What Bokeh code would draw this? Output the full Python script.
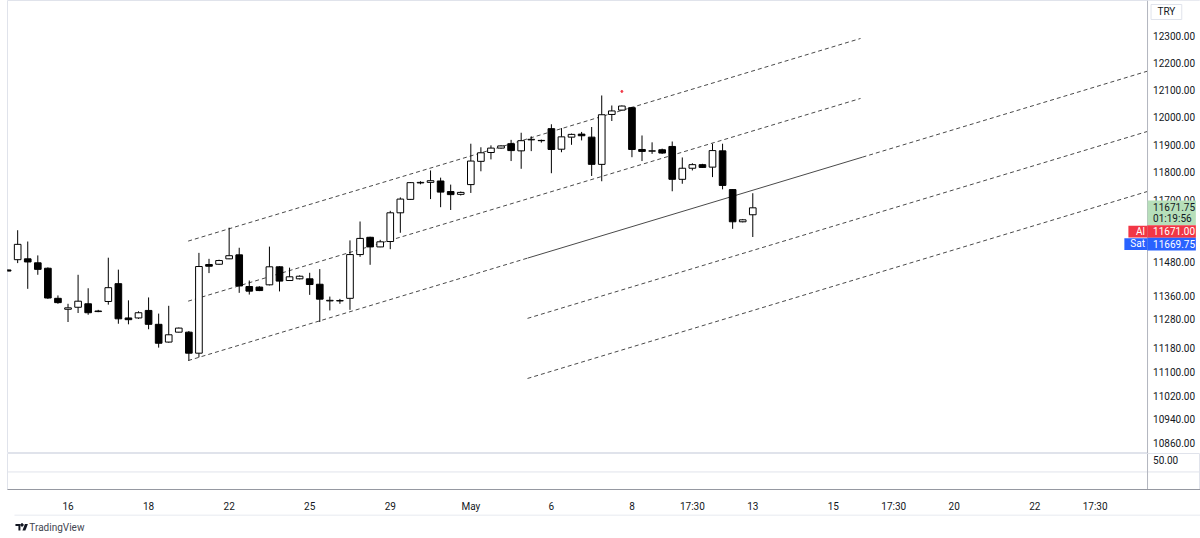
from bokeh.plotting import figure
from bokeh.layouts import column
from bokeh.models import Range1d, FixedTicker, ColumnDataSource
from bokeh.embed import file_html
from bokeh.resources import INLINE
from bokeh.core.properties import value

# ---------------- data (4 bars per trading day, index = bar number) ----------------
bar_index = list(range(-1, 74))
opens = [11452, 11488, 11491, 11477, 11458, 11353, 11315, 11322, 11334, 11307,
         11342, 11404, 11285, 11285, 11311, 11263, 11202, 11236, 11236, 11164,
         11471, 11472, 11491, 11505, 11394, 11392, 11400, 11463, 11415, 11421,
         11421, 11402, 11344, 11345, 11353, 11506, 11567, 11533, 11552, 11654,
         11702, 11761, 11763, 11768, 11730, 11720, 11755, 11839, 11871, 11887,
         11903, 11877, 11917, 11915, 11958, 11883, 11927, 11938, 11927, 11828,
         12010, 12026, 12035, 11882, 11876, 11881, 11893, 11774, 11814, 11827,
         11818, 11877, 11737, 11622, 11647]
highs = [11455, 11592, 11552, 11503, 11461, 11363, 11334, 11435, 11388, 11313,
         11495, 11453, 11346, 11308, 11356, 11300, 11327, 11252, 11240, 11512,
         11491, 11488, 11601, 11530, 11415, 11395, 11534, 11465, 11460, 11433,
         11442, 11455, 11359, 11351, 11556, 11623, 11569, 11558, 11661, 11709,
         11764, 11767, 11806, 11780, 11755, 11730, 11903, 11890, 11897, 11897,
         11917, 11943, 11930, 11918, 11974, 11960, 11940, 11946, 11964, 12080,
         12043, 12043, 12038, 11933, 11908, 11885, 11911, 11853, 11832, 11830,
         11903, 11903, 11738, 11632, 11724]
lows = [11446, 11476, 11386, 11435, 11351, 11334, 11271, 11302, 11296, 11305,
        11331, 11265, 11263, 11282, 11246, 11183, 11200, 11235, 11139, 11150,
        11441, 11470, 11490, 11372, 11366, 11378, 11398, 11377, 11414, 11419,
        11365, 11271, 11311, 11334, 11313, 11498, 11470, 11532, 11525, 11583,
        11701, 11756, 11703, 11674, 11664, 11716, 11725, 11803, 11846, 11885,
        11840, 11812, 11876, 11907, 11796, 11872, 11899, 11915, 11786, 11767,
        11986, 12024, 11854, 11840, 11866, 11866, 11731, 11758, 11806, 11815,
        11782, 11738, 11597, 11620, 11568]
closes = [11448, 11542, 11480, 11454, 11354, 11338, 11320, 11343, 11303, 11309,
          11390, 11282, 11279, 11303, 11263, 11198, 11227, 11250, 11164, 11464,
          11465, 11485, 11502, 11396, 11378, 11380, 11463, 11413, 11428, 11430,
          11401, 11350, 11346, 11344, 11506, 11563, 11533, 11551, 11654, 11703,
          11762, 11763, 11769, 11728, 11719, 11727, 11840, 11870, 11887, 11895,
          11878, 11914, 11919, 11914, 11882, 11928, 11937, 11932, 11828, 12009,
          12023, 12041, 11882, 11875, 11877, 11869, 11774, 11814, 11827, 11817,
          11878, 11752, 11622, 11629, 11671.75]

# drawn channel lines (bar index, price)
chan_upper_x = [16.93, 83.7]
chan_upper_y = [11553.5, 12292.5]
chan_middle_x = [16.93, 83.7]
chan_middle_y = [11343.1, 12069.0]
chan_lower_x = [16.93, 50.63]
chan_lower_y = [11138.7, 11493.5]
trend_solid_x = [50.63, 83.89]
trend_solid_y = [11493.5, 11854.1]
trend_ext_x = [83.89, 112.2]
trend_ext_y = [11854.1, 12170.3]
chan2_mid_x = [50.63, 112.2]
chan2_mid_y = [11283.5, 11947.9]
chan2_low_x = [50.63, 112.2]
chan2_low_y = [11077.9, 11730.4]

alert_x = [60]
alert_y = [12095]

price_ticks = [10860, 10940, 11020, 11100, 11180, 11280, 11360, 11480,
               11700, 11800, 11900, 12000, 12100, 12200, 12300]
pane_ticks = [50]
time_tick_idx = [5, 13, 21, 29, 37, 45, 53, 61, 67, 73, 81, 87, 93, 101, 107]
time_tick_labels = ["16", "18", "22", "25", "29", "May", "6", "8", "17:30",
                    "13", "15", "17:30", "20", "22", "17:30"]

currency = "TRY"
last_price = 11671.75
countdown = "01:19:56"
bid_price = 11671.00
ask_price = 11669.75

# ---------------- styling / layout ----------------
FONT = "Roboto"
TXT = "#131722"
BORDER = "#e0e3eb"
AXLINE = "#b2b5be"
W = 1200
X0, X_AX, X1 = -1.01, 112.2, 117.46      # frame start, price-scale edge, frame end
LAB_X = 112.75                          # where scale labels start
Y_LO, Y_HI = 10826.5, 12436.2

up = [c >= o for o, c in zip(opens, closes)]
src = ColumnDataSource(dict(
    x=bar_index, h=highs, l=lows,
    top=[max(o, c) for o, c in zip(opens, closes)],
    bot=[min(o, c) for o, c in zip(opens, closes)],
    fill=["#ffffff" if u else "#000000" for u in up],
))

p = figure(width=W, height=453, x_range=Range1d(X0, X1),
           y_range=Range1d(Y_LO, Y_HI), y_axis_type="log",
           y_axis_location=None, x_axis_location=None,
           toolbar_location=None, output_backend="svg",
           min_border_left=7, min_border_right=0, min_border_top=0,
           min_border_bottom=0, outline_line_color=BORDER,
           background_fill_color="white", border_fill_color="white")
p.xgrid.visible = False
p.ygrid.visible = False

dash_col = "#4a4a4a"
for xs, ys in [(chan_upper_x, chan_upper_y), (chan_middle_x, chan_middle_y),
               (chan_lower_x, chan_lower_y), (trend_ext_x, trend_ext_y),
               (chan2_mid_x, chan2_mid_y), (chan2_low_x, chan2_low_y)]:
    p.line(xs, ys, line_color=dash_col, line_width=1, line_dash="4 3")
p.line(trend_solid_x, trend_solid_y, line_color=dash_col, line_width=1)

p.segment(x0="x", y0="h", x1="x", y1="l", source=src, line_color="#000000", line_width=1)
p.vbar(x="x", width=0.66, top="top", bottom="bot", source=src,
       fill_color="fill", line_color="#000000", line_width=1)

p.scatter(alert_x, alert_y, size=2, color="#f23645")

# ----- price scale (right) -----
p.quad(left=[X_AX], right=[X1], bottom=[Y_LO], top=[Y_HI],
       fill_color="white", line_color=None)
p.segment(x0=[X_AX], y0=[Y_LO], x1=[X_AX], y1=[Y_HI], line_color=AXLINE, line_width=1)
p.text(x=[LAB_X] * len(price_ticks), y=price_ticks,
       text=["%.2f" % v for v in price_ticks], text_font=value(FONT),
       text_font_size="10px", text_color=TXT, text_baseline="middle")

# currency box
p.quad(left=[112.55], right=[115.6], bottom=[12364], top=[12421],
       fill_color="white", line_color=BORDER)
p.text(x=[114.07], y=[12392.6], text=[currency], text_font=value(FONT),
       text_font_size="10px", text_color=TXT, text_align="center",
       text_baseline="middle")

# last price + countdown badge
p.quad(left=[X_AX], right=[117.0], bottom=[11609.3], top=[11698.0],
       fill_color="#b7dfba", line_color=None)
p.text(x=[LAB_X], y=[11673.1], text=["%.2f" % last_price], text_font=value(FONT),
       text_font_size="10px", text_color=TXT, text_baseline="middle")
p.text(x=[LAB_X], y=[11632.3], text=[countdown], text_font=value(FONT),
       text_font_size="10px", text_color=TXT, text_baseline="middle")

# bid / ask badges
p.quad(left=[X_AX, X_AX], right=[117.0, 117.0], bottom=[11565.0, 11520.4],
       top=[11609.3, 11565.0], fill_color=["#f23645", "#2962ff"], line_color=None)
p.text(x=[LAB_X, LAB_X], y=[11587.9, 11543.6],
       text=["%.2f" % bid_price, "%.2f" % ask_price], text_font=value(FONT),
       text_font_size="10px", text_color="white", text_baseline="middle")
p.quad(left=[110.3, 109.9], right=[X_AX, X_AX], bottom=[11566.5, 11522.0],
       top=[11608.0, 11563.6], fill_color=["#f23645", "#2962ff"], line_color=None)
p.text(x=[111.95, 111.95], y=[11587.9, 11543.6], text=["Al", "Sat"],
       text_font=value(FONT), text_font_size="10px", text_color="white",
       text_align="right", text_baseline="middle")

# ---------------- indicator panes + time axis ----------------
q = figure(width=W, height=61, x_range=p.x_range, y_range=Range1d(0, 60.3),
           y_axis_location=None, x_axis_location="below",
           toolbar_location=None, output_backend="svg",
           min_border_left=7, min_border_right=0, min_border_top=0,
           min_border_bottom=20, outline_line_color=BORDER,
           background_fill_color="white", border_fill_color="white")
q.xgrid.visible = False
q.ygrid.visible = False
q.segment(x0=[X0], y0=[29.4], x1=[X1], y1=[29.4], line_color=BORDER, line_width=1)
q.segment(x0=[X_AX], y0=[0], x1=[X_AX], y1=[60.3], line_color=AXLINE, line_width=1)
q.text(x=[LAB_X] * len(pane_ticks), y=pane_ticks, text=["%.2f" % v for v in pane_ticks],
       text_font=value(FONT), text_font_size="10px", text_color=TXT,
       text_baseline="middle")
qx = q.xaxis[0]
qx.ticker = FixedTicker(ticks=time_tick_idx)
qx.major_label_overrides = {i: s for i, s in zip(time_tick_idx, time_tick_labels)}
qx.major_tick_line_color = None
qx.minor_tick_line_color = None
qx.axis_line_color = "#9598a1"
qx.major_label_text_font = FONT
qx.major_label_text_font_size = "10px"
qx.major_label_text_color = TXT
qx.major_label_standoff = 5

# ---------------- footer logo ----------------
f = figure(width=W, height=24, x_range=Range1d(0, W), y_range=Range1d(0, 24),
           x_axis_location=None, y_axis_location=None, toolbar_location=None,
           output_backend="svg", min_border=0, outline_line_color=None,
           background_fill_color="white", border_fill_color="white")
f.xgrid.visible = False
f.ygrid.visible = False
f.segment(x0=[7], y0=[23.5], x1=[1199.5], y1=[23.5], line_color=BORDER, line_width=1)
f.patches(xs=[[8, 13, 13, 11, 11, 8], [17.5, 20.5, 18, 15]],
          ys=[[14.5, 14.5, 8, 8, 12.5, 12.5], [14.5, 14.5, 8, 8]],
          fill_color="#131722", line_color=None)
f.scatter([14.6], [13.6], size=2.5, color="#131722")
f.text([22], [11], text=["TradingView"], text_font=value(FONT), text_font_size="10px",
       text_color="#434651", text_baseline="middle")

layout = column(p, q, f, spacing=0)
open("out.html", "w").write(file_html(layout, INLINE))
